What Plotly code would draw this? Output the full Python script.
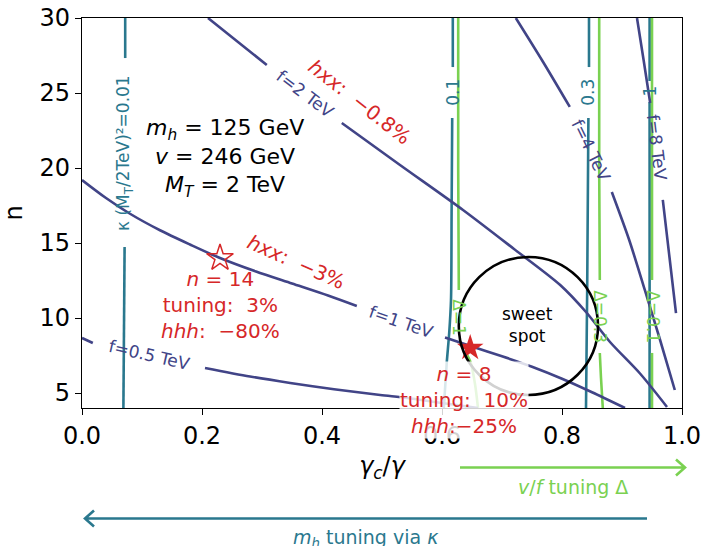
import plotly.graph_objects as go

NAVY = "#414487"
TEAL = "#2a788e"
GREEN = "#7ad151"
RED = "#d62728"
FONT = "DejaVu Sans"

# ---- contour lines traced in (gamma_c/gamma, n); None leaves room for the inline label ----
# f = 0.5, 1, 2, 4, 8 TeV
f05_x = [0.0, 0.018, None, 0.205, 0.28, 0.347, 0.42, 0.497, 0.542, 0.60, 0.66]
f05_n = [8.67, 8.33, None, 6.67, 6.1, 5.67, 5.25, 4.87, 4.67, 4.33, 4.0]

f1_x = [0.0, 0.04, 0.08, 0.13, 0.18, 0.23, 0.29, 0.35, 0.41, 0.458, None,
        0.605, 0.65, 0.70, 0.75, 0.80, 0.85, 0.905]
f1_n = [19.2, 18.0, 16.95, 15.85, 14.9, 14.0, 13.1, 12.3, 11.5, 10.8, None,
        8.7, 8.1, 7.45, 6.75, 5.95, 5.05, 4.0]

f2_x = [0.21, 0.26, 0.308, None, 0.433, 0.53, 0.635, 0.72, 0.797, 0.84, 0.88, 0.93, 0.975]
f2_n = [30.0, 28.4, 26.87, None, 23.0, 20.2, 17.2, 14.6, 12.2, 10.4, 8.4, 6.3, 4.07]

f4_x = [0.723, 0.768, 0.813, None, 0.883, 0.912, 0.938, 0.963, 0.988]
f4_n = [30.0, 27.1, 24.07, None, 18.4, 15.2, 11.87, 8.6, 5.2]

f8_x = [0.925, 0.936, 0.947, None, 0.968, 0.979, 0.99]
f8_n = [30.0, 27.2, 24.33, None, 17.87, 14.1, 10.33]

# kappa (M_T/2TeV)^2 = 0.01, 0.1, 0.3, 1
k001_x = [0.072, 0.072, None, 0.071, 0.069]
k001_n = [30.0, 27.33, None, 14.73, 4.0]

k01_x = [0.618, 0.618, None, 0.617, 0.616, 0.615, 0.612, 0.608, 0.603]
k01_n = [30.0, 26.73, None, 23.33, 17.0, 11.2, 9.0, 7.07, 4.0]

k03_x = [0.845, 0.845, None, 0.844, 0.842, 0.84]
k03_n = [30.0, 26.73, None, 23.33, 12.0, 4.0]

k1_x = [0.946, 0.946, None, 0.946, 0.946]
k1_n = [30.0, 25.8, None, 24.4, 4.0]

# v/f tuning Delta = 1, 0.3, 0.1
d1_x = [0.627, 0.627, 0.628, None, 0.64, 0.648, 0.655, 0.66]
d1_n = [30.0, 20.0, 11.87, None, 7.67, 7.0, 5.6, 4.0]

d03_x = [0.862, 0.862, 0.863, None, 0.863, 0.865, 0.868]
d03_n = [30.0, 20.0, 12.53, None, 7.67, 6.0, 4.0]

d01_x = [0.950, 0.950, None, 0.950, 0.950]
d01_n = [30.0, 12.53, None, 7.67, 4.0]

# benchmark points
bench_open = (0.23, 14)
bench_fill = (0.647, 8)

# sweet-spot circle (centre, radii in data units)
spot_c = (0.744, 9.47)
spot_r = (0.116, 4.6)

fig = go.Figure()

def add_line(xs, ys, color):
    fig.add_trace(go.Scatter(x=xs, y=ys, mode="lines", connectgaps=False,
                             line=dict(color=color, width=2.6, shape="spline", smoothing=0.8),
                             hoverinfo="skip", showlegend=False))

for xs, ys in [(k001_x, k001_n), (k01_x, k01_n), (k03_x, k03_n), (k1_x, k1_n)]:
    add_line(xs, ys, TEAL)
for xs, ys in [(d1_x, d1_n), (d03_x, d03_n), (d01_x, d01_n)]:
    add_line(xs, ys, GREEN)
for xs, ys in [(f05_x, f05_n), (f1_x, f1_n), (f2_x, f2_n), (f4_x, f4_n), (f8_x, f8_n)]:
    add_line(xs, ys, NAVY)

fig.add_trace(go.Scatter(x=[bench_open[0]], y=[bench_open[1]], mode="markers",
                         marker=dict(symbol="star-open", size=20, color=RED,
                                     line=dict(color=RED, width=1.5)),
                         showlegend=False, hoverinfo="skip"))
fig.add_trace(go.Scatter(x=[bench_fill[0]], y=[bench_fill[1]], mode="markers",
                         marker=dict(symbol="star", size=20, color=RED,
                                     line=dict(width=0)),
                         showlegend=False, hoverinfo="skip"))

fig.add_shape(type="circle", xref="x", yref="y",
              x0=spot_c[0] - spot_r[0], x1=spot_c[0] + spot_r[0],
              y0=spot_c[1] - spot_r[1], y1=spot_c[1] + spot_r[1],
              line=dict(color="black", width=2.6))

ann = []

def label(x, y, text, color, size, angle=0, **kw):
    d = dict(x=x, y=y, xref="x", yref="y", text=text, showarrow=False,
             textangle=angle, font=dict(family=FONT, size=size, color=color),
             xanchor="center", yanchor="middle")
    d.update(kw)
    ann.append(d)

# contour labels
label(0.372, 24.93, "f=2 TeV", NAVY, 17, 37)
label(0.848, 21.2, "f=4 TeV", NAVY, 17, 64)
label(0.958, 21.4, "f=8 TeV", NAVY, 17, 83)
label(0.532, 9.73, "f=1 TeV", NAVY, 17, 19)
label(0.112, 7.53, "f=0.5 TeV", NAVY, 17, 13)
label(0.07, 21.0, "κ (M<sub>T</sub>/2TeV)²=0.01", TEAL, 17, -90)
label(0.618, 25.07, "0.1", TEAL, 17, -90)
label(0.843, 25.07, "0.3", TEAL, 17, -90)
label(0.945, 25.1, "1", TEAL, 17, -90)
label(0.628, 10.0, "Δ=1", GREEN, 17, 90)
label(0.863, 10.07, "Δ=0.3", GREEN, 17, 90)
label(0.951, 10.07, "Δ=0.1", GREEN, 17, 90)

# annotations in red
label(0.463, 24.4, "<i>hxx</i>:  −0.8%", RED, 20, 38)
label(0.357, 13.73, "<i>hxx</i>:  −3%", RED, 20, 24)
label(0.23, 10.87, "<i>n</i> = 14<br>tuning:  3%<br><i>hhh</i>:  −80%", RED, 20)
label(0.637, 4.53, "<i>n</i> = 8<br>tuning:  10%<br><i>hhh</i>:−25%", RED, 20,
      bgcolor="rgba(255,255,255,0.82)", borderpad=0)

# parameter box
label(0.238, 20.67, "<i>m<sub>h</sub></i> = 125 GeV<br><i>v</i> = 246 GeV<br><i>M<sub>T</sub></i> = 2 TeV",
      "black", 22)

label(0.742, 9.55, "sweet<br>spot", "black", 17)

# arrows and captions below the axis (paper coordinates)
ann.append(dict(x=(573 - 82) / 600, y=(408 - 487) / 390, xref="paper", yref="paper",
                showarrow=False, xanchor="center", yanchor="middle",
                text="<i>v</i>/<i>f</i> tuning Δ", font=dict(family=FONT, size=19, color=GREEN)))
ann.append(dict(x=(366 - 82) / 600, y=(408 - 538) / 390, xref="paper", yref="paper",
                showarrow=False, xanchor="center", yanchor="middle",
                text="<i>m<sub>h</sub></i> tuning via <i>κ</i>",
                font=dict(family=FONT, size=19, color=TEAL)))

# green arrow to the right
gy = (408 - 467.5) / 390
fig.add_shape(type="path", xref="paper", yref="paper",
              path=f"M {(460-82)/600},{gy} L {(685-82)/600},{gy} "
                   f"M {(676-82)/600},{gy + 8/390} L {(685-82)/600},{gy} L {(676-82)/600},{gy - 8/390}",
              line=dict(color=GREEN, width=2.6))
# teal arrow to the left
ty = (408 - 518.5) / 390
fig.add_shape(type="path", xref="paper", yref="paper",
              path=f"M {(647-82)/600},{ty} L {(85-82)/600},{ty} "
                   f"M {(94-82)/600},{ty + 8/390} L {(85-82)/600},{ty} L {(94-82)/600},{ty - 8/390}",
              line=dict(color=TEAL, width=2.6))

fig.update_layout(
    width=703, height=546,
    margin=dict(l=82, r=21, t=18, b=138),
    plot_bgcolor="white", paper_bgcolor="white",
    annotations=ann,
    font=dict(family=FONT, color="black"),
    xaxis=dict(range=[0, 1], tickvals=[0, 0.2, 0.4, 0.6, 0.8, 1.0],
               ticktext=["0.0", "0.2", "0.4", "0.6", "0.8", "1.0"],
               ticks="outside", ticklen=6, tickwidth=1.2, tickcolor="black",
               showline=True, mirror=True, linecolor="black", linewidth=1.2,
               showgrid=False, zeroline=False, automargin=False,
               tickfont=dict(family=FONT, size=24, color="black"),
               title=dict(text="<i>γ<sub>c</sub></i>/<i>γ</i>", standoff=8,
                          font=dict(family=FONT, size=24, color="black"))),
    yaxis=dict(range=[4, 30], tickvals=[5, 10, 15, 20, 25, 30],
               ticks="outside", ticklen=6, tickwidth=1.2, tickcolor="black",
               showline=True, mirror=True, linecolor="black", linewidth=1.2,
               showgrid=False, zeroline=False, automargin=False,
               tickfont=dict(family=FONT, size=24, color="black"),
               title=dict(text="n", standoff=10,
                          font=dict(family=FONT, size=24, color="black"))),
)

fig.write_html("out.html")
